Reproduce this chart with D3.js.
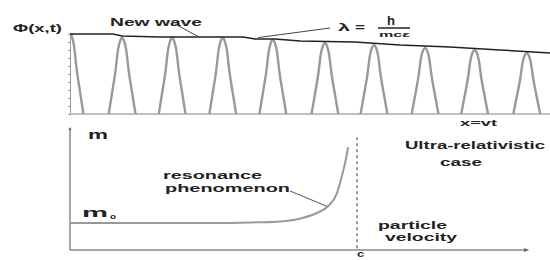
<!DOCTYPE html>
<html>
<head>
<meta charset="utf-8">
<script src="https://cdn.jsdelivr.net/npm/d3@7"></script>
<style>
  body { margin: 0; background: #fff; }
  text { font-family: "Liberation Sans", Arial, sans-serif; font-weight: bold; fill: #222; }
</style>
</head>
<body>
<div class="chart"></div>
<script>
// top panel: wave peaks (x in wavelengths, amplitude 0..1)
const peakX = [0, 1.03, 2.02, 3.02, 4.01, 5.04, 6.01, 7.02, 8.0, 9.03]
const peakAmp = [1, 0.95, 0.95, 0.95, 0.925, 0.8875, 0.8625, 0.825, 0.8, 0.7625]
// shape of one arch: offset from peak (wavelengths) and relative height
const archDx = [-0.265, -0.2, -0.13, -0.08, -0.04, 0, 0.04, 0.08, 0.13, 0.2, 0.265]
const archH = [0, 0.27, 0.57, 0.85, 0.96, 1, 0.96, 0.85, 0.57, 0.27, 0]
// "new wave" envelope
const envX = [0, 0.85, 1.03, 1.78, 3.42, 3.66, 4.05, 4.55, 5.63, 6.52, 7.51, 8.5, 9.49]
const envAmp = [1, 1, 0.975, 0.9625, 0.9625, 0.9375, 0.9375, 0.9125, 0.9, 0.8625, 0.8375, 0.8, 0.7625]

// bottom panel: mass vs velocity (v/c, m/m0)
const vel = [0, 0.5, 0.63, 0.72, 0.8, 0.86, 0.9, 0.93, 0.95, 0.962, 0.969]
const mass = [1, 1, 1.02, 1.05, 1.16, 1.37, 1.63, 2.1, 2.85, 3.4, 3.81]

let width = 550, height = 260
let svg = d3.select(".chart")
    .append("svg")
    .attr("width", width)
    .attr("height", height)

//上半部分比例尺
let xTop = d3.scaleLinear().domain([0, 9.49]).range([70, 550])
let yTop = d3.scaleLinear().domain([0, 1]).range([114, 34])

svg.append("clipPath").attr("id", "topClip")
    .append("rect")
    .attr("x", xTop(0)).attr("y", 0)
    .attr("width", xTop(9.49) - xTop(0)).attr("height", yTop(0) + 2)

// baseline
svg.append("path")
    .attr("stroke", "#aaa")
    .attr("stroke-width", 1.5)
    .attr("d", `M${xTop(0)},${yTop(0)} H${xTop(9.49)}`)

// axis with little ticks
svg.append("g")
    .attr("transform", `translate(${xTop(0)},0)`)
    .call(d3.axisLeft(yTop).ticks(14).tickSize(2).tickFormat(""))
    .call(g => g.selectAll("path,line").attr("stroke", "#999"))

let archLine = d3.line()
    .x(d => d[0])
    .y(d => d[1])
    .curve(d3.curveMonotoneX)

svg.append("g")
    .attr("clip-path", "url(#topClip)")
    .selectAll("path")
    .data(peakX)
    .enter()
    .append("path")
    .attr("fill", "none")
    .attr("stroke", "#999")
    .attr("stroke-width", 2.4)
    .attr("d", (d, i) => archLine(archDx.map((dx, j) => [xTop(d + dx), yTop(peakAmp[i] * archH[j])])))

// envelope
svg.append("path")
    .attr("fill", "none")
    .attr("stroke", "#222")
    .attr("stroke-width", 1.5)
    .attr("d", d3.line().x(d => xTop(d)).y((d, i) => yTop(envAmp[i]))(envX))

// labels
function label(str, x0, x1, y, size) {
    return svg.append("text")
        .attr("x", x0)
        .attr("y", y)
        .attr("font-size", size)
        .attr("textLength", x1 - x0)
        .attr("lengthAdjust", "spacingAndGlyphs")
        .text(str)
}
label("Φ(x,t)", 13, 62, 32, 10)
label("New wave", 110, 202, 26, 11)
label("x=vt", 460, 497, 126, 9)
label("λ", 338, 350, 31, 11)
label("=", 355, 365, 31, 11)
label("h", 387, 395, 25, 12)
label("mcε", 379, 410, 37, 8)
svg.append("path")
    .attr("stroke", "#222")
    .attr("stroke-width", 1.5)
    .attr("d", "M378,28 H410")

// leader lines
svg.append("path")
    .attr("stroke", "#444")
    .attr("stroke-width", 1)
    .attr("d", `M175,24 L${xTop(2.53)},${yTop(0.97)}`)
svg.append("path")
    .attr("stroke", "#444")
    .attr("stroke-width", 1)
    .attr("d", `M330,28 L${xTop(3.72)},${yTop(0.955)}`)

//下半部分比例尺
let xLow = d3.scaleLinear().domain([0, 1]).range([70, 357])
let yLow = d3.scaleLinear().domain([0, 1]).range([250, 223])

// axes
svg.append("path")
    .attr("stroke", "#888")
    .attr("stroke-width", 1.5)
    .attr("d", `M${xLow(0)},${yLow(0)} V${yLow(4.52)}`)
svg.append("path")
    .attr("stroke", "#888")
    .attr("stroke-width", 1.5)
    .attr("d", `M${xLow(0)},${yLow(0)} H${xLow(1.59)}`)
svg.append("path")
    .attr("fill", "#666")
    .attr("d", `M${xLow(1.6)},${yLow(0)} l-5,-2 v4 z`)
svg.append("path")
    .attr("fill", "#666")
    .attr("d", `M${xLow(0)},${yLow(4.56)} l-1.5,3 h3 z`)

// speed of light
svg.append("path")
    .attr("stroke", "#999")
    .attr("stroke-width", 2)
    .attr("stroke-dasharray", "3,3")
    .attr("d", `M${xLow(1)},${yLow(4.18)} V${yLow(0)}`)

// mass curve
svg.append("path")
    .attr("fill", "none")
    .attr("stroke", "#999")
    .attr("stroke-width", 2)
    .attr("d", d3.line().x(d => xLow(d)).y((d, i) => yLow(mass[i])).curve(d3.curveMonotoneX)(vel))

label("m", 88, 108, 139, 13)
label("m", 82, 108, 217, 13)
label("o", 110, 116, 219, 7)
label("resonance", 163, 262, 179, 10)
label("phenomenon", 165, 290, 192, 10)
svg.append("path")
    .attr("stroke", "#555")
    .attr("stroke-width", 1)
    .attr("d", `M290,191 L${xLow(0.895)},${yLow(1.62)}`)
label("Ultra-relativistic", 405, 545, 149, 10)
label("case", 440, 482, 166, 10)
label("particle", 378, 447, 229, 10)
label("velocity", 385, 457, 241, 10)
label("c", 357, 364, 257, 9)
</script>
</body>
</html>
